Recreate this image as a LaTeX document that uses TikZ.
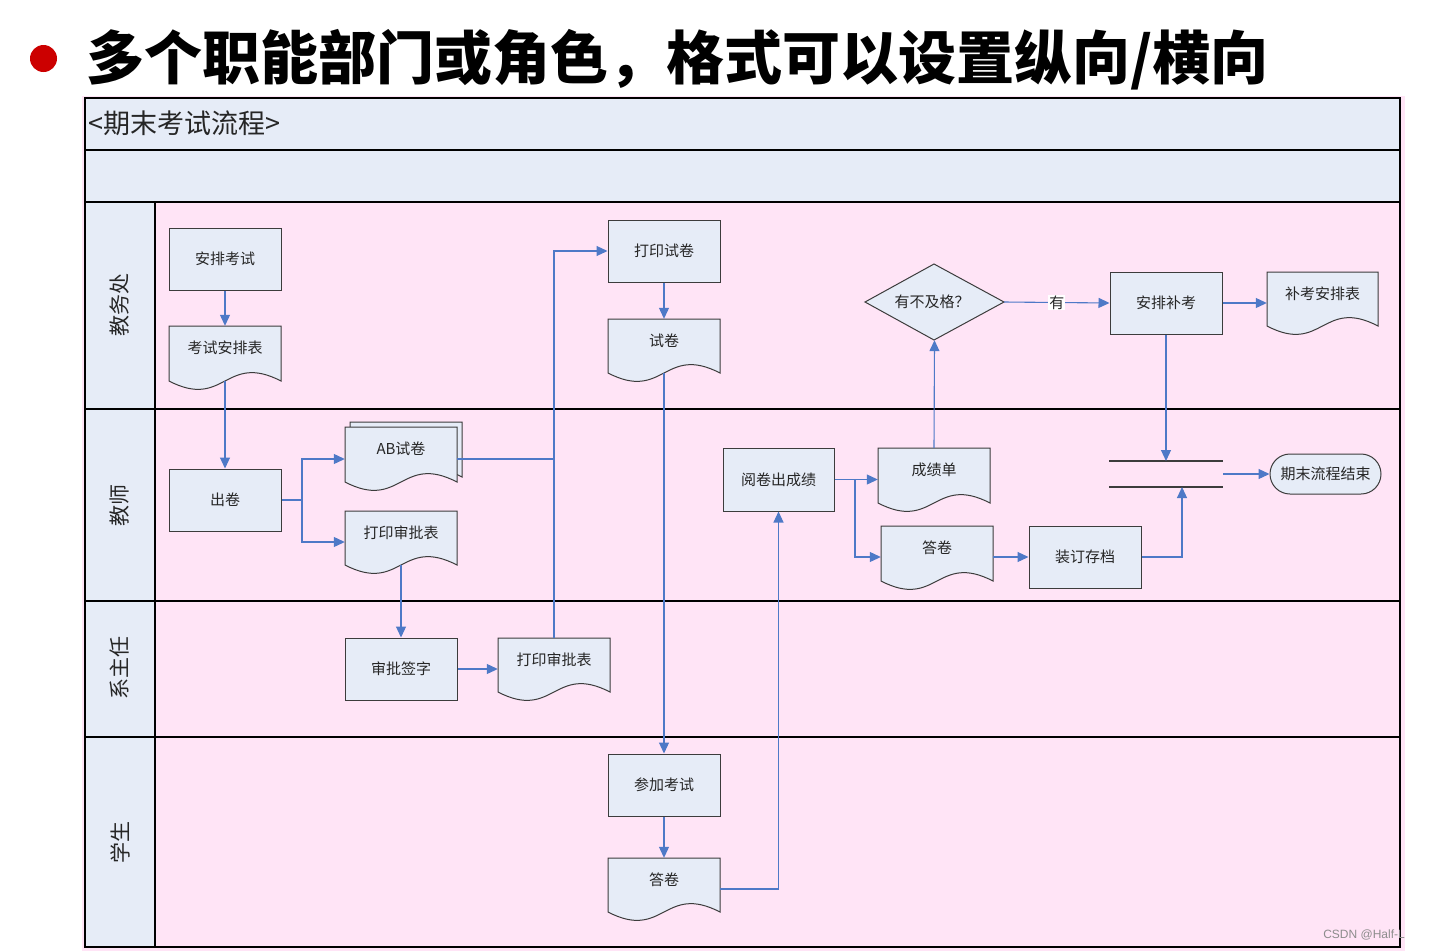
\documentclass[tikz,border=0pt]{standalone}
\usepackage{fontspec}
\setmainfont{Noto Sans CJK SC}
\newfontfamily\wmfont{Liberation Sans}
\usetikzlibrary{arrows.meta}
\definecolor{pinkbg}{RGB}{255,228,246}
\definecolor{lblue}{RGB}{230,236,247}
\definecolor{connblue}{RGB}{78,121,199}
\definecolor{bord}{RGB}{60,60,60}
\definecolor{bulletred}{RGB}{204,0,0}
\newcommand\docshp[6]{%
  \path[shapefill] (#2,#3) -- (#4,#3) -- (#4,#5) .. controls ({(#2+#4)/2},{#5-29}) and ({(#2+#4)/2},{#5+29}) .. (#2,#5) -- cycle;
  \node[inner sep=0, minimum width={#4-#2}, minimum height={#5-#3}] (#1) at ({(#2+#4)/2},{(#3+#5)/2}) {};
  \node[txt] at ({(#2+#4)/2},{#3+22}) {#6};
}
\begin{document}
\begin{tikzpicture}[x=1pt,y=-1pt,
  shapefill/.style={draw=bord, fill=lblue, line width=1pt},
  proc/.style={shapefill, minimum width=112pt, minimum height=62pt, inner sep=0, font=\fontsize{15}{17}\selectfont, text=black!85},
  txt/.style={inner sep=0, font=\fontsize{15}{17}\selectfont, text=black!85},
  conn/.style={draw=connblue, line width=1.1pt, -{Triangle[length=11pt,width=10pt]}},
  plainconn/.style={draw=connblue, line width=1.1pt},
  lanelbl/.style={rotate=90, inner sep=0, font=\fontsize{21}{24}\selectfont, text=black!85},
  frameline/.style={draw=black, line width=1.3pt}
]
\useasboundingbox (0,0) rectangle (1429,951);
% title
\fill[bulletred] (43.5,58.5) circle (13.5pt);
\node[anchor=base west, inner sep=0, font=\fontsize{58}{60}\selectfont\bfseries] (title) at (86,79) {多个职能部门或角色，格式可以设置纵向/横向};
% background and frame
\fill[pinkbg] (82,96) rectangle (1405,951);
\fill[lblue] (85,98) rectangle (1400,202);
\fill[lblue] (85,202) rectangle (155,947);
\draw[frameline] (85,98) rectangle (1400,947);
\foreach \yy in {150,202,409,601,737} \draw[frameline] (85,\yy) -- (1400,\yy);
\draw[frameline] (155,202) -- (155,947);
\node[anchor=west, inner sep=0, font=\fontsize{27}{30}\selectfont, text=black!85] (hdr) at (88,123) {<期末考试流程>};
% lane labels
\node[lanelbl] (l1) at (120,305) {教务处};
\node[lanelbl] (l2) at (120,505) {教师};
\node[lanelbl] (l3) at (120,668) {系主任};
\node[lanelbl] (l4) at (120,842) {学生};
% process boxes
\node[proc] (anpai) at (225,259) {安排考试};
\node[proc] (dayin) at (664,251) {打印试卷};
\node[proc] (bukao) at (1166,303) {安排补考};
\node[proc] (chujuan) at (225,500) {出卷};
\node[proc, minimum width=111pt, minimum height=63pt] (yuejuan) at (778.5,479.5) {阅卷出成绩};
\node[proc] (zd) at (1085,557) {装订存档};
\node[proc] (shenpi) at (401,669) {审批签字};
\node[proc] (canjia) at (664,785) {参加考试};
\node[shapefill, rounded corners=20pt, minimum width=111pt, minimum height=40pt, inner sep=0, font=\fontsize{15}{17}\selectfont, text=black!85] (endn) at (1325.5,474) {期末流程结束};
% decision
\path[shapefill] (865,302) -- (934,264) -- (1004,302) -- (934,340) -- cycle;
\node[inner sep=0, minimum width=139pt, minimum height=76pt] (dia) at (934.5,302) {};
\node[txt] (diat) at (932,302) {有不及格？};
% documents
\docshp{ksb}{169}{326}{281}{381}{考试安排表}
\docshp{shijuan}{608}{319}{720}{373}{试卷}
\docshp{bkb}{1267}{272}{1378}{326}{补考安排表}
\path[shapefill] (350,422) -- (462,422) -- (462,477) .. controls (406,448) and (406,506) .. (350,477) -- cycle;
\docshp{ab}{345}{427}{457}{482}{AB试卷}
\docshp{spba}{345}{511}{457}{565}{打印审批表}
\docshp{cjd}{878}{448}{990}{503}{成绩单}
\docshp{dja}{881}{526}{993}{581}{答卷}
\docshp{spbb}{498}{638}{610}{692}{打印审批表}
\docshp{djb}{608}{858}{720}{912}{答卷}
% sync bar
\coordinate (s1a) at (1109,461); \coordinate (s1b) at (1223,461);
\coordinate (s2a) at (1109,487); \coordinate (s2b) at (1223,487);
\coordinate (s2m) at (1182,487);
\coordinate (s3) at (1223,474);
\draw[draw=bord, line width=1.1pt] (s1a) -- (s1b);
\draw[draw=bord, line width=1.1pt] (s2a) -- (s2b);
% connectors
\draw[conn] (anpai.south) -- (ksb.north);
\draw[conn] (ksb.south) -- (chujuan.north);
\coordinate (c1) at (302,500);
\draw[plainconn] (chujuan.east) -- (c1);
\draw[conn] (c1) |- ([yshift=-4.5pt]ab.west);
\draw[conn] (c1) |- ([yshift=-4pt]spba.west);
\draw[plainconn] ([yshift=-4.5pt]ab.east) -- ([yshift=-4.5pt]ab.east -| spbb.north);
\draw[conn] (spbb.north) |- (dayin.west);
\draw[conn] (dayin.south) -- (shijuan.north);
\draw[conn] (shijuan.south) -- (canjia.north);
\draw[conn] (spba.south) -- (shenpi.north);
\draw[conn] (shenpi.east) -- (shenpi.east -| spbb.west);
\draw[conn] (canjia.south) -- (djb.north);
\draw[conn] ([yshift=-4pt]djb.east) -| (yuejuan.south);
\draw[conn] (yuejuan.east) -- (yuejuan.east -| cjd.west);
\coordinate (c2) at (855,479.5);
\draw[conn] (c2) |- ([yshift=-3.5pt]dja.west);
\draw[conn] (cjd.north) -- (dia.south);
\draw[conn] (dia.east) -- node[txt, fill=white, inner sep=1pt] (you) {有} (bukao.west);
\draw[conn] (bukao.east) -- (bukao.east -| bkb.west);
\draw[conn] (bukao.south) -- (bukao.south |- s1a);
\draw[conn] (zd.west -| dja.east) -- (zd.west);
\draw[conn] (zd.east) -| (s2m);
\draw[conn] (s3) -- (endn.west);
% watermark
\node[anchor=east, inner sep=0, font=\wmfont\fontsize{12}{14}\selectfont, text=black!45] (wm) at (1405,935) {CSDN @Half-L};
\end{tikzpicture}
\end{document}
